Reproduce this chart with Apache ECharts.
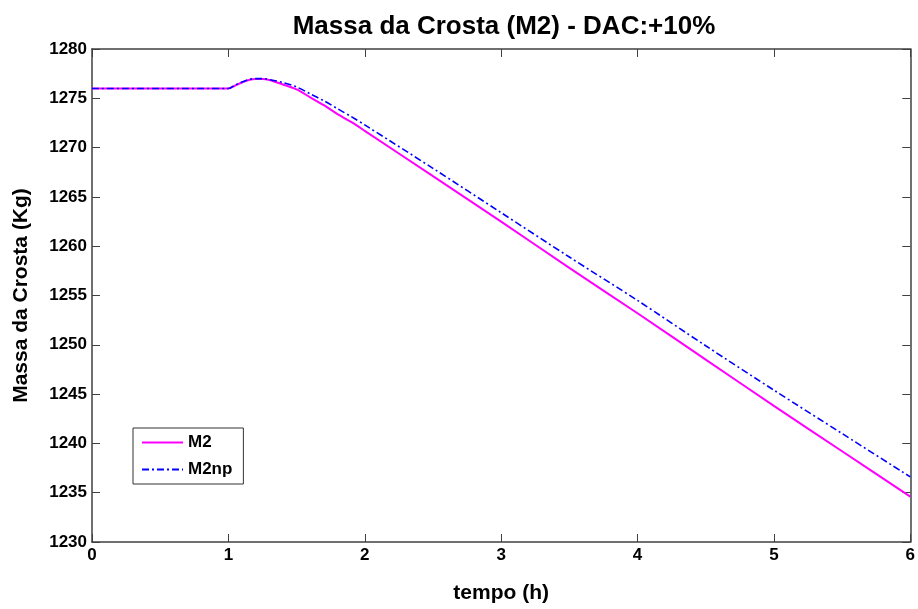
<!DOCTYPE html>
<html><head><meta charset="utf-8">
<script src="https://cdn.jsdelivr.net/npm/echarts@6/dist/echarts.min.js"></script>
<style>html,body{margin:0;padding:0;background:#fff}#c{width:918px;height:609px}</style>
</head><body><div id="c"></div>
<script>
const tempo = [0, 0.5, 1.0, 1.05, 1.1, 1.15, 1.2, 1.25, 1.3, 1.4, 1.5, 1.6, 1.7, 1.8, 1.9, 2.0, 2.5, 3.0, 3.5, 4.0, 4.5, 5.0, 5.5, 6.0];
const m2 = [1276, 1276, 1276, 1276.3, 1276.6, 1276.85, 1276.95, 1276.95, 1276.85, 1276.4, 1275.9, 1275.1, 1274.3, 1273.4, 1272.6, 1271.7, 1267.1, 1262.5, 1257.8, 1253.2, 1248.5, 1243.8, 1239.2, 1234.6];
const m2np = [1276, 1276, 1276, 1276.35, 1276.65, 1276.9, 1277.0, 1277.0, 1276.9, 1276.6, 1276.15, 1275.45, 1274.75, 1273.95, 1273.15, 1272.3, 1267.9, 1263.4, 1258.9, 1254.5, 1249.9, 1245.4, 1241.0, 1236.6];
const seriesNames = ['M2', 'M2np'];
const titleText = 'Massa da Crosta (M2) - DAC:+10%';
const xLabel = 'tempo (h)';
const yLabel = 'Massa da Crosta (Kg)';

const pairs = (xs, ys) => xs.map((x, i) => [x, ys[i]]);
const axisColor = '#404040';
const font = 'Arial, "Liberation Sans", sans-serif';
const chart = echarts.init(document.getElementById('c'), null, {renderer: 'canvas'});
const boxAxis = (extra) => Object.assign({
  axisLine: {show: true, onZero: false, lineStyle: {color: axisColor, width: 1.5}},
  axisTick: {show: true, inside: true, length: 8, lineStyle: {color: axisColor}},
  splitLine: {show: false}
}, extra);
const tickLabel = {fontFamily: font, fontWeight: 'bold', fontSize: 17, color: '#000', margin: 5,
  formatter: (v) => String(v)};
const nameStyle = {fontFamily: font, fontWeight: 'bold', fontSize: 21, color: '#000'};
chart.setOption({
  animation: false,
  title: {text: titleText, left: 499, top: 9, textAlign: 'center',
    textStyle: {fontFamily: font, fontWeight: 'bold', fontSize: 26, color: '#000'}},
  grid: {left: 92, right: 6, top: 49, bottom: 61},
  legend: {
    orient: 'vertical', left: 133, top: 428,
    data: seriesNames,
    borderColor: '#333', borderWidth: 1, padding: [6, 11, 6, 8],
    itemWidth: 41, itemHeight: 10, itemGap: 10,
    itemStyle: {opacity: 0, borderWidth: 0},
    textStyle: {fontFamily: font, fontWeight: 'bold', fontSize: 17, color: '#000'}
  },
  xAxis: [
    boxAxis({type: 'value', min: 0, max: 6, interval: 1, position: 'bottom',
      name: xLabel, nameLocation: 'middle', nameGap: 41, nameTextStyle: nameStyle,
      axisLabel: tickLabel}),
    boxAxis({type: 'value', min: 0, max: 6, interval: 1, position: 'top', axisLabel: {show: false}})
  ],
  yAxis: [
    boxAxis({type: 'value', min: 1230, max: 1280, interval: 5, position: 'left',
      name: yLabel, nameLocation: 'middle', nameGap: 60, nameTextStyle: nameStyle,
      axisLabel: tickLabel}),
    boxAxis({type: 'value', min: 1230, max: 1280, interval: 5, position: 'right', axisLabel: {show: false}})
  ],
  series: [
    {name: seriesNames[0], type: 'line', data: pairs(tempo, m2), symbol: 'none', smooth: 0.3,
      lineStyle: {color: '#ff00ff', width: 2}, itemStyle: {color: '#ff00ff'}},
    {name: seriesNames[1], type: 'line', data: pairs(tempo, m2np), symbol: 'none', smooth: 0.3,
      lineStyle: {color: '#0000ff', width: 1.6, type: [7, 3, 2, 3]}, itemStyle: {color: '#0000ff'}}
  ]
});
</script></body></html>
